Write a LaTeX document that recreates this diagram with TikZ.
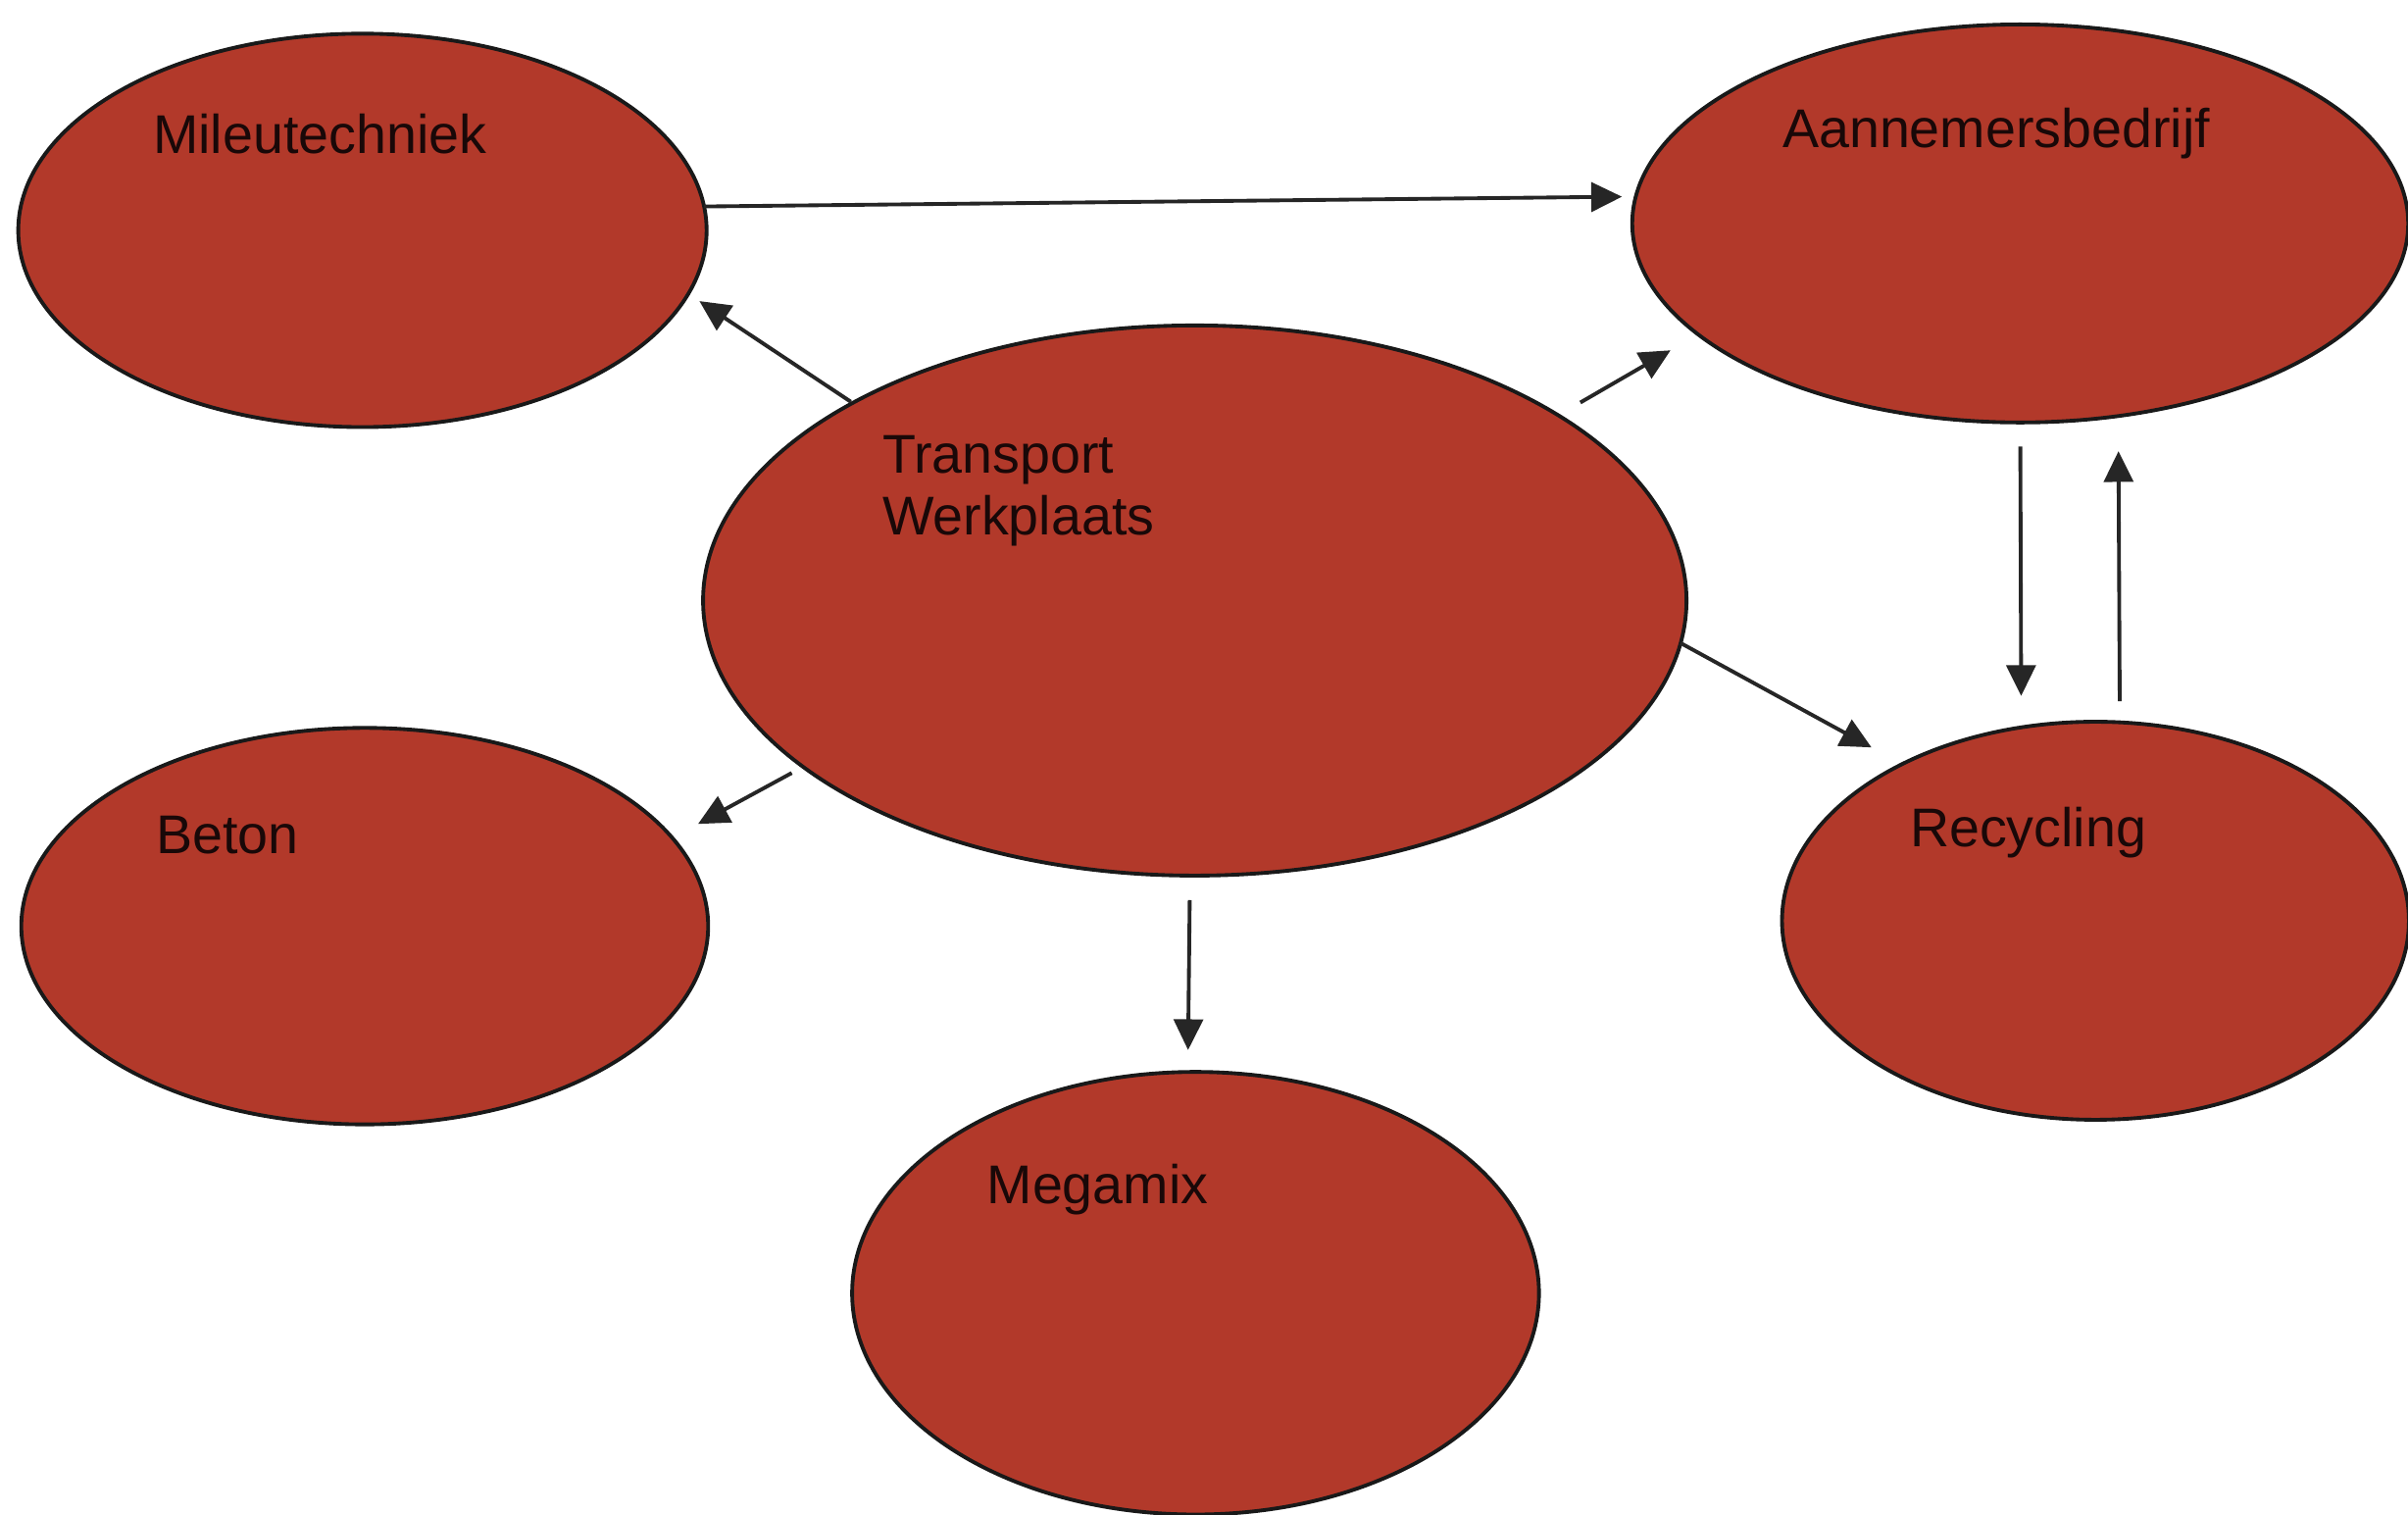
\documentclass[tikz,border=0pt]{standalone}
\usepackage{fontspec}
\setmainfont{Liberation Sans}
\usetikzlibrary{arrows.meta,shapes.geometric}
\definecolor{bubblered}{RGB}{178,57,42}
\definecolor{ink}{RGB}{25,8,8}
\begin{document}
\begin{tikzpicture}[x=0.01cm,y=-0.01cm,
  bubble/.style={ellipse, draw=black!90, line width=0.7pt, fill=bubblered, inner sep=0pt, outer sep=0pt},
  caption/.style={anchor=base west, inner sep=0pt, text=ink, font=\fontsize{10.1}{12}\selectfont},
  link/.style={draw=black!85, line width=0.7pt, -{Triangle[length=0.2cm,width=0.19cm]}}
]
\useasboundingbox (0,0) rectangle (1568,986);
\fill[white] (0,0) rectangle (1568,986);

% organisations
\node[bubble, minimum width=4.48cm, minimum height=2.56cm] (mil) at (236,150) {};
\node[bubble, minimum width=5.05cm, minimum height=2.59cm] (aan) at (1315.5,145.5) {};
\node[bubble, minimum width=6.40cm, minimum height=3.58cm] (tw)  at (778,391) {};
\node[bubble, minimum width=4.47cm, minimum height=2.58cm] (bet) at (237.5,603) {};
\node[bubble, minimum width=4.08cm, minimum height=2.59cm] (rec) at (1364.5,599.5) {};
\node[bubble, minimum width=4.47cm, minimum height=2.88cm] (meg) at (778.5,842) {};

% names
\node[caption] (mil-t) at (99,100) {Mileutechniek};
\node[caption] (aan-t) at (1160,96) {Aannemersbedrijf};
\node[caption] (tw-t1) at (574,308) {Transport};
\node[caption] (tw-t2) at (574,348) {Werkplaats};
\node[caption] (bet-t) at (101,556) {Beton};
\node[caption] (rec-t) at (1243,551) {Recycling};
\node[caption] (meg-t) at (642,784) {Megamix};

% flows
\draw[link, shorten >=0.09cm] (mil.4.25) -- (aan.176.57);
\draw[link, shorten <=0.015cm, shorten >=0.087cm] (tw.150.8) -- (mil.-11.93);
\draw[link, shorten <=0.166cm, shorten >=0.207cm] (tw.27.55) -- (aan.199.6);
\draw[link, shorten >=0.227cm] (tw.-5.97) -- (rec.141.0);
\draw[link, shorten <=0.084cm, shorten >=0.191cm] (tw.203.6) -- (bet.16.13);
\draw[link, shorten <=0.16cm, shorten >=0.143cm] (tw.-91.6) -- (meg.92.19);
\draw[link, shorten <=0.156cm, shorten >=0.205cm] (aan.south) -- (rec.111.5);
\draw[link, shorten <=0.138cm, shorten >=0.229cm] (rec.83.6) -- (aan.-63.1);
\end{tikzpicture}
\end{document}
